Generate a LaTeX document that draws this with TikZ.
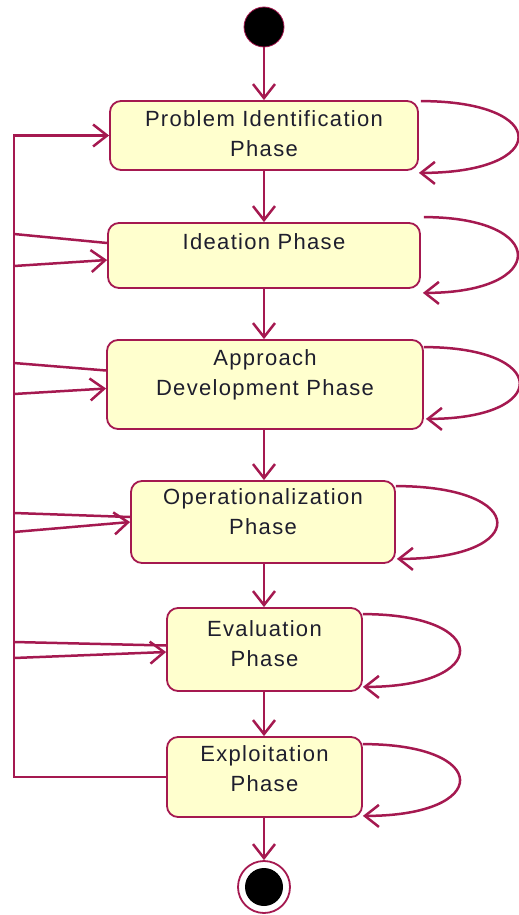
\documentclass[tikz,border=0pt]{standalone}
\usepackage{fontspec}
\setmainfont{Liberation Sans}[LetterSpace=6]
\usetikzlibrary{arrows.meta,calc}
\definecolor{edgec}{RGB}{165,25,80}
\definecolor{boxfill}{RGB}{255,255,206}
\definecolor{txtc}{RGB}{30,30,45}
\begin{document}
\begin{tikzpicture}[x=1pt,y=-1pt,
  phase/.style={draw=edgec, line width=1.8pt, fill=boxfill, rounded corners=11pt, inner sep=0pt},
  label/.style={inner sep=0pt, anchor=north, align=center, text=txtc, font=\fontsize{22}{30}\selectfont},
  conn/.style={draw=edgec, line width=2.5pt},
  arr/.style={conn, -{Straight Barb[length=14pt,width=22pt]}},
  ]
\useasboundingbox (0,0) rectangle (519,915);
% start and end
\node[circle, fill=black, draw=edgec, line width=0.8pt, minimum size=40pt, inner sep=0pt] (start) at (264,27) {};
\node[circle, draw=edgec, line width=1.8pt, fill=white, minimum size=52pt, inner sep=0pt] (end) at (264,887) {};
\node[circle, fill=black, minimum size=38pt, inner sep=0pt] (endin) at (264,887) {};
% boxes
\node[phase, minimum width=308pt, minimum height=69pt] (b1) at (264,135.5) {};
\node[phase, minimum width=312pt, minimum height=65pt] (b2) at (264,255.5) {};
\node[phase, minimum width=316pt, minimum height=89pt] (b3) at (265,384.5) {};
\node[phase, minimum width=264pt, minimum height=82pt] (b4) at (263,522) {};
\node[phase, minimum width=195pt, minimum height=83pt] (b5) at (264.5,649.5) {};
\node[phase, minimum width=195pt, minimum height=80pt] (b6) at (264.5,777) {};
% labels
\node[label] (t1) at ($(b1.north)+(0,10)$) {Problem Identification\\Phase};
\node[label] (t2) at ($(b2.north)+(0,11)$) {Ideation Phase};
\node[label] (t3) at ($(b3.north)+(0,10)$) {Approach\\Development Phase};
\node[label] (t4) at ($(b4.north)+(0,8)$) {Operationalization\\Phase};
\node[label] (t5) at ($(b5.north)+(0,13)$) {Evaluation\\Phase};
\node[label] (t6) at ($(b6.north)+(0,9)$) {Exploitation\\Phase};
% main flow
\coordinate (xm) at (264,0);
\draw[arr] (start) -- (start |- b1.north);
\draw[arr] (xm |- b1.south) -- (xm |- b2.north);
\draw[arr] (xm |- b2.south) -- (xm |- b3.north);
\draw[arr] (xm |- b3.south) -- (xm |- b4.north);
\draw[arr] (xm |- b4.south) -- (xm |- b5.north);
\draw[arr] (xm |- b5.south) -- (xm |- b6.north);
\draw[arr] (xm |- b6.south) -- (end);
% self loops
\draw[arr] ($(b1.north east)+(2,1)$) .. controls +(130,0) and +(132,0) .. ($(b1.south east)+(0,2)$);
\draw[arr] ($(b2.north east)+(3,-5)$) .. controls +(125,0) and +(126,0) .. ($(b2.south east)+(2,4)$);
\draw[arr] ($(b3.north east)+(0,8)$) .. controls +(127,0) and +(125,0) .. ($(b3.south east)+(2,-11)$);
\draw[arr] ($(b4.north east)+(0,6)$) .. controls +(134,0) and +(134,0) .. ($(b4.south east)+(1,-5)$);
\draw[arr] ($(b5.north east)+(0,7)$) .. controls +(129,0) and +(129,0) .. ($(b5.south east)+(0,-5)$);
\draw[arr] ($(b6.north east)+(0,8)$) .. controls +(129,0) and +(129,0) .. ($(b6.south east)+(0,-2)$);
% left bus
\coordinate (bustop) at (14,135.5);
\coordinate (busbot) at (14,777);
\draw[arr, rounded corners=0pt] (b6.west) -- (busbot) -- (bustop) -- (b1.west);
\coordinate (o2) at (14,234);
\coordinate (i2) at (14,266);
\coordinate (o3) at (14,363);
\coordinate (i3) at (14,394);
\coordinate (o4) at (14,513);
\coordinate (i4) at (14,532);
\coordinate (o5) at (14,642);
\coordinate (i5) at (14,658);
\draw[conn] ($(b2.west)+(0,-12.5)$) -- (o2);
\draw[arr] (i2) -- ($(b2.west)+(0,4.5)$);
\draw[conn] ($(b3.west)+(0,-14)$) -- (o3);
\draw[arr] (i3) -- ($(b3.west)+(0,4)$);
\draw[conn] ($(b4.west)+(0,-5)$) -- (o4);
\draw[arr] (i4) -- ($(b4.west)+(0,0)$);
\draw[conn] ($(b5.west)+(0,-4)$) -- (o5);
\draw[arr] (i5) -- ($(b5.west)+(0,2.5)$);
\end{tikzpicture}
\end{document}
